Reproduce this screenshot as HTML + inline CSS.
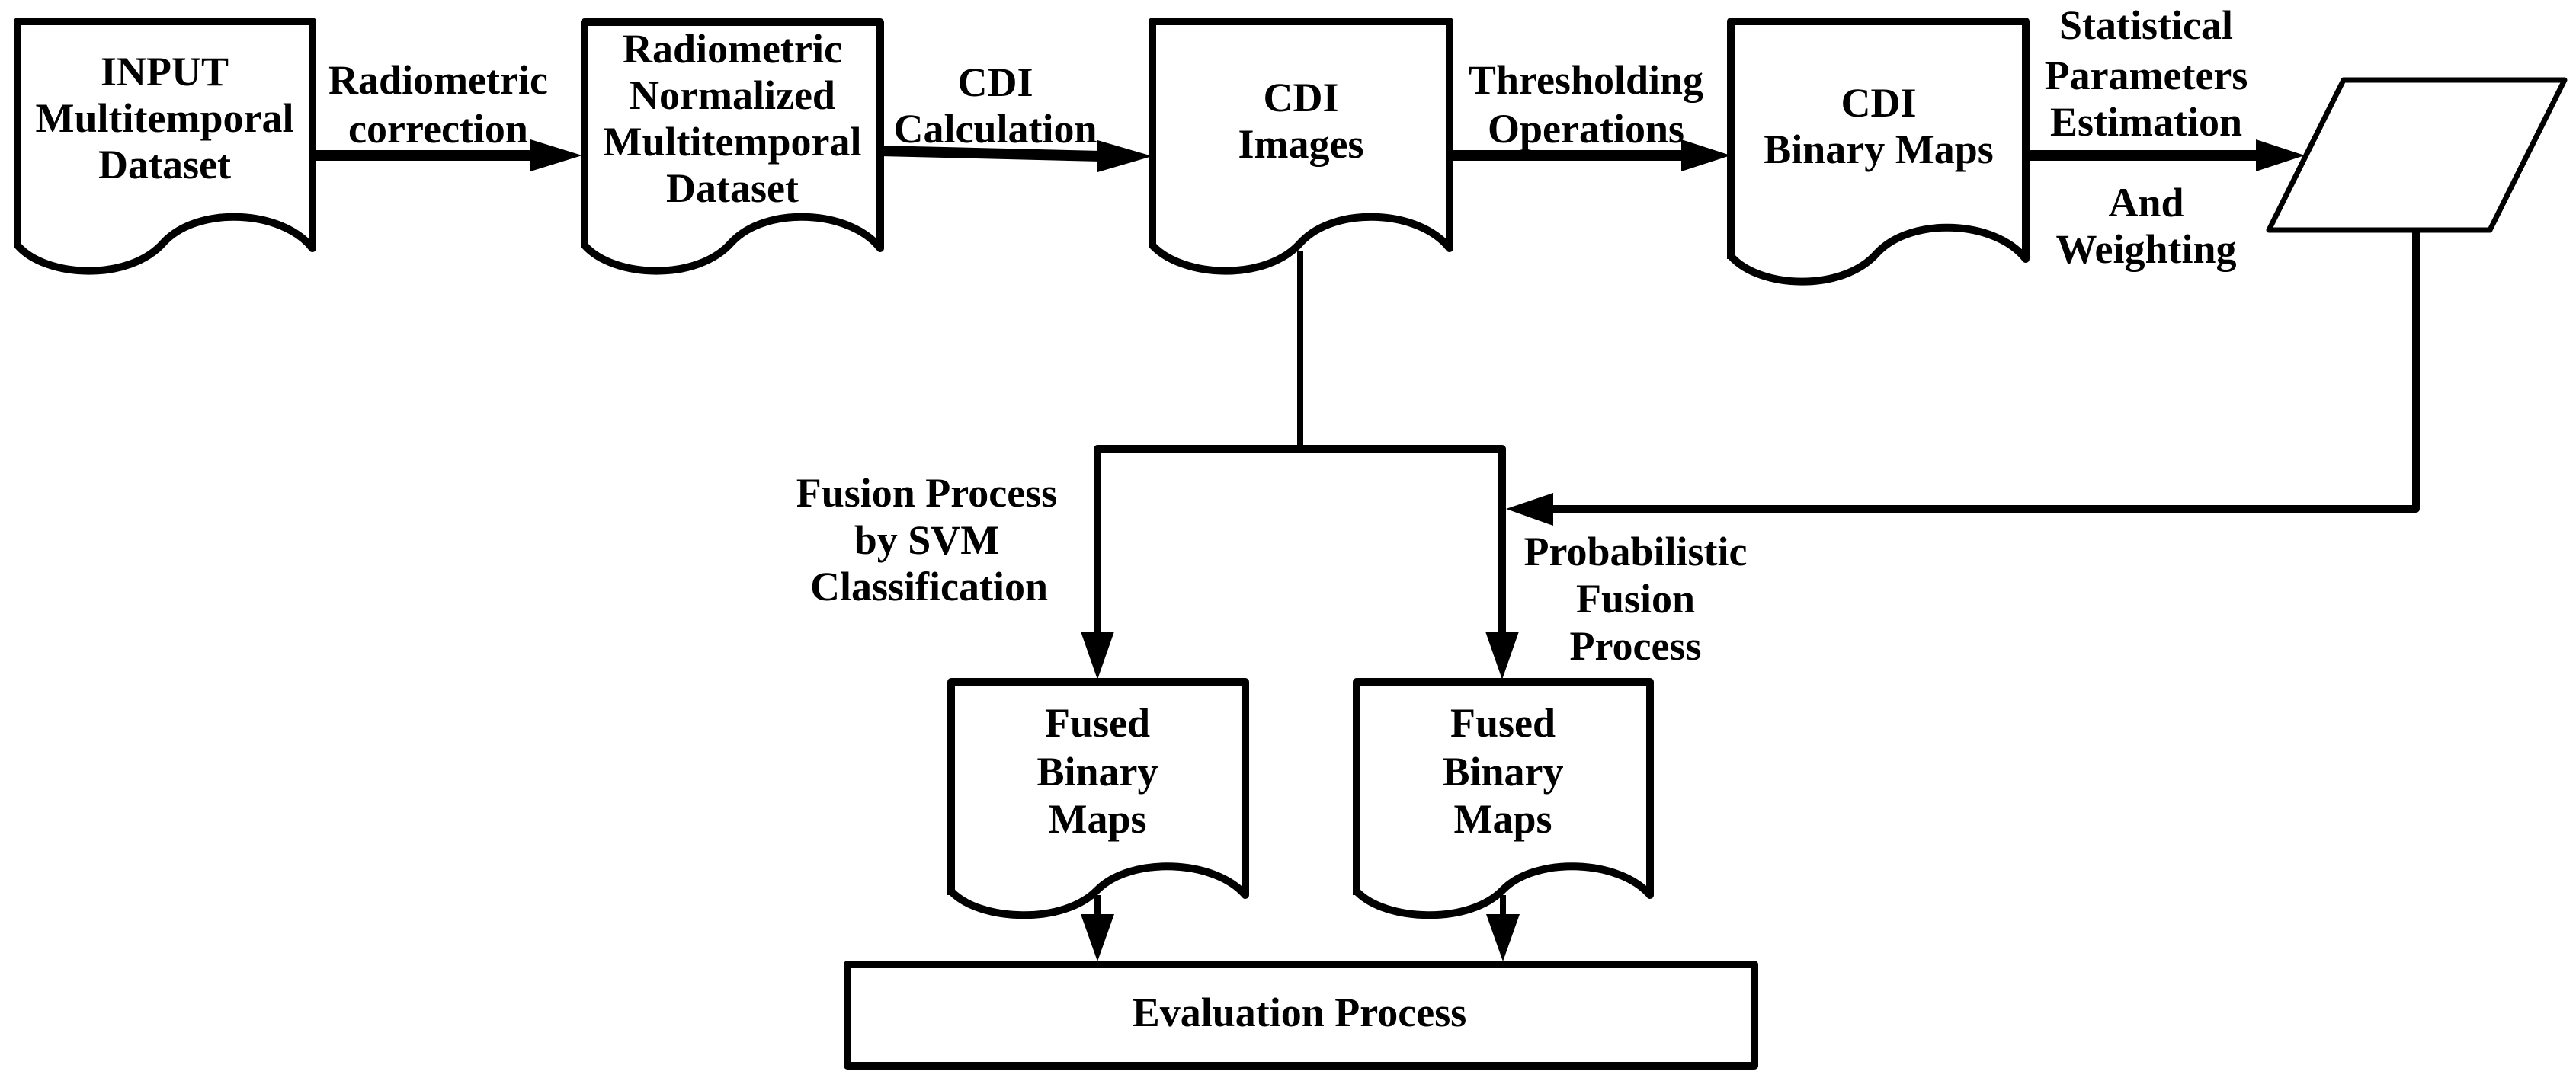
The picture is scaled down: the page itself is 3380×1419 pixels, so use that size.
<!DOCTYPE html>
<html><head><meta charset="utf-8"><style>
html,body{margin:0;padding:0;background:#fff;}
svg{display:block;}
text{font-family:"Liberation Serif",serif;font-weight:bold;font-size:54px;fill:#000;text-anchor:middle;}
</style></head><body>
<svg width="3380" height="1419" viewBox="0 0 3380 1419" xmlns="http://www.w3.org/2000/svg">
<g fill="none" stroke="#000" stroke-width="10" stroke-linejoin="round">
<path d="M23,326 V28 H410 V326 C370,275 260,270 215,318 C170,370 60,365 23,322"/>
<path d="M767,326 V29 H1155 V326 C1115,275 1005,270 960,318 C915,370 805,365 767,322"/>
<path d="M1512,326 V28 H1902 V326 C1862,275 1752,270 1707,318 C1662,370 1552,365 1512,322"/>
<path d="M2271,340 V28 H2658 V340 C2618,289 2508,284 2463,332 C2418,384 2308,379 2271,336"/>
<path d="M1248,1175 V895 H1634 V1175 C1594,1128 1484,1124 1440,1168 C1396,1214 1286,1210 1248,1170"/>
<path d="M1780,1175 V895 H2165 V1175 C2125,1128 2015,1124 1972,1168 C1928,1214 1818,1210 1780,1170"/>
<rect x="1112" y="1266" width="1190" height="133"/>
</g>
<path d="M3075,105 H3365 L3267,302 H2977 Z" fill="none" stroke="#000" stroke-width="7" stroke-linejoin="round"/>
<g stroke="#000" stroke-width="14" fill="#000">
<line x1="410" y1="204" x2="700" y2="204"/>
<path d="M696,183 L764,204 L696,225 Z" stroke="none"/>
<line x1="1155" y1="198" x2="1445" y2="205"/>
<path d="M1440,184 L1512,205 L1440,226 Z" stroke="none"/>
<line x1="1902" y1="204" x2="2210" y2="204"/>
<path d="M2206,183 L2271,204 L2206,225 Z" stroke="none"/>
<line x1="2658" y1="204" x2="2965" y2="204"/>
<path d="M2960,183 L3024,204 L2960,225 Z" stroke="none"/>
</g>
<g stroke="#000" fill="none" stroke-linejoin="round">
<line x1="1706" y1="330" x2="1706" y2="589" stroke-width="8"/>
<path d="M1440,835 V589 H1971 V835" stroke-width="10"/>
<path d="M3170,302 V668 H2035" stroke-width="10"/>
<line x1="1440" y1="1175" x2="1440" y2="1205" stroke-width="8"/>
<line x1="1972" y1="1175" x2="1972" y2="1205" stroke-width="8"/>
</g>
<g fill="#000">
<path d="M1418,829 L1462,829 L1440,892 Z"/>
<path d="M1949,829 L1993,829 L1971,892 Z"/>
<path d="M2038,647 L2038,690 L1976,668 Z"/>
<path d="M1418,1200 L1462,1200 L1440,1262 Z"/>
<path d="M1950,1200 L1994,1200 L1972,1262 Z"/>
</g>
<text x="216" y="112">INPUT</text>
<text x="216" y="173">Multitemporal</text>
<text x="216" y="234">Dataset</text>
<text x="575" y="123">Radiometric</text>
<text x="575" y="187">correction</text>
<text x="961" y="82">Radiometric</text>
<text x="961" y="143">Normalized</text>
<text x="961" y="204">Multitemporal</text>
<text x="961" y="265">Dataset</text>
<text x="1306" y="126">CDI</text>
<text x="1306" y="187">Calculation</text>
<text x="1707" y="146">CDI</text>
<text x="1707" y="207">Images</text>
<text x="2081" y="123">Thresholding</text>
<text x="2081" y="187">Operations</text>
<text x="2465" y="153">CDI</text>
<text x="2465" y="214">Binary Maps</text>
<text x="2816" y="51">Statistical</text>
<text x="2816" y="117">Parameters</text>
<text x="2816" y="178">Estimation</text>
<text x="2816" y="284">And</text>
<text x="2816" y="345">Weighting</text>
<text x="1216" y="665">Fusion Process</text>
<text x="1216" y="727">by SVM</text>
<text x="1219" y="788">Classification</text>
<text x="2146" y="742">Probabilistic</text>
<text x="2146" y="804">Fusion</text>
<text x="2146" y="866">Process</text>
<text x="1440" y="967">Fused</text>
<text x="1440" y="1031">Binary</text>
<text x="1440" y="1093">Maps</text>
<text x="1972" y="967">Fused</text>
<text x="1972" y="1031">Binary</text>
<text x="1972" y="1093">Maps</text>
<text x="1705" y="1347">Evaluation Process</text>
</svg>
</body></html>
